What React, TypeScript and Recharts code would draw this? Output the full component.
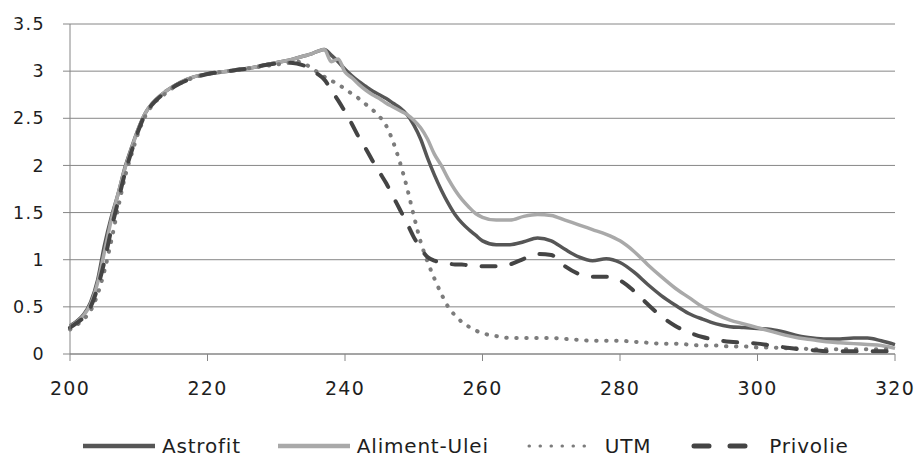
import React from "react";
import {
  LineChart,
  Line,
  XAxis,
  YAxis,
  CartesianGrid,
  Legend
} from "recharts";

// wavelength, nm
const wavelengths = [
  200, 201, 202, 203, 204, 205, 206, 207, 208, 209, 210, 211, 212,
  214, 216, 218, 220, 222, 224, 226, 228, 230,
  232, 233, 234, 235, 236, 237, 238, 239, 240, 241, 242, 243, 244, 245, 246,
  247, 248, 249, 250, 251, 252, 253, 254, 255, 256, 257, 258, 259, 260,
  262, 264, 266, 268, 270, 272, 274, 276, 278, 280, 282, 284, 286, 288, 290,
  292, 294, 296, 298, 300, 302, 304, 306, 308, 310, 312, 314, 316, 318, 320
];

const astrofit = [
  0.30, 0.35, 0.42, 0.55, 0.78, 1.15, 1.45, 1.70, 1.98, 2.20, 2.40, 2.56, 2.66,
  2.79, 2.88, 2.94, 2.97, 2.99, 3.01, 3.03, 3.06, 3.09,
  3.12, 3.14, 3.16, 3.18, 3.21, 3.23, 3.17, 3.10, 3.02, 2.95, 2.89, 2.84, 2.79, 2.75, 2.71,
  2.66, 2.61, 2.54, 2.43, 2.28, 2.08, 1.90, 1.74, 1.60, 1.48, 1.39, 1.32, 1.26, 1.20,
  1.16, 1.16, 1.19, 1.23, 1.20, 1.11, 1.03, 0.99, 1.01, 0.97, 0.87, 0.74, 0.62, 0.52, 0.43,
  0.37, 0.32, 0.29, 0.28, 0.27, 0.26, 0.23, 0.19, 0.17, 0.16, 0.16, 0.17, 0.17, 0.14, 0.10
];

const alimentUlei = [
  0.29, 0.34, 0.41, 0.53, 0.75, 1.08, 1.42, 1.70, 1.97, 2.19, 2.40, 2.56, 2.66,
  2.79, 2.88, 2.94, 2.97, 2.99, 3.01, 3.03, 3.06, 3.09,
  3.12, 3.14, 3.16, 3.18, 3.21, 3.23, 3.10, 3.13, 2.99, 2.93, 2.86, 2.80, 2.75, 2.71, 2.66,
  2.62, 2.58, 2.54, 2.48, 2.40, 2.28, 2.12, 2.00, 1.86, 1.74, 1.64, 1.56, 1.49, 1.45,
  1.42, 1.42, 1.46, 1.48, 1.47, 1.42, 1.37, 1.32, 1.27, 1.20, 1.09, 0.95, 0.82, 0.70, 0.60,
  0.50, 0.42, 0.36, 0.32, 0.28, 0.24, 0.20, 0.17, 0.15, 0.13, 0.12, 0.11, 0.10, 0.09, 0.06
];

const utm = [
  0.26, 0.31, 0.37, 0.46, 0.63, 0.88, 1.20, 1.55, 1.88, 2.13, 2.36, 2.53, 2.64,
  2.77, 2.87, 2.93, 2.97, 2.99, 3.01, 3.03, 3.05, 3.07,
  3.09, 3.10, 3.08, 3.04, 2.99, 2.94, 2.90, 2.86, 2.81, 2.76, 2.71, 2.65, 2.59, 2.52, 2.42,
  2.25, 2.03, 1.77, 1.47, 1.19, 0.98, 0.80, 0.64, 0.50, 0.41, 0.34, 0.29, 0.25, 0.22,
  0.19, 0.17, 0.17, 0.17, 0.17, 0.16, 0.15, 0.14, 0.14, 0.14, 0.13, 0.12, 0.11, 0.11, 0.10,
  0.09, 0.09, 0.08, 0.08, 0.07, 0.07, 0.06, 0.06, 0.05, 0.05, 0.05, 0.05, 0.05, 0.05, 0.05
];

const privolie = [
  0.28, 0.33, 0.39, 0.50, 0.70, 0.98, 1.32, 1.62, 1.92, 2.16, 2.38, 2.55, 2.65,
  2.78, 2.87, 2.93, 2.97, 2.99, 3.01, 3.03, 3.06, 3.08,
  3.09, 3.08, 3.06, 3.02, 2.97, 2.91, 2.80, 2.69, 2.57, 2.44, 2.30, 2.18, 2.05, 1.93, 1.81,
  1.67, 1.53, 1.39, 1.24, 1.12, 1.03, 0.99, 0.97, 0.96, 0.95, 0.95, 0.94, 0.94, 0.93,
  0.93, 0.95, 1.01, 1.06, 1.05, 0.93, 0.85, 0.82, 0.82, 0.78, 0.67, 0.53, 0.40, 0.30, 0.23,
  0.18, 0.15, 0.13, 0.12, 0.11, 0.09, 0.07, 0.05, 0.04, 0.03, 0.03, 0.03, 0.03, 0.03, 0.03
];

const xTicks = [200, 220, 240, 260, 280, 300, 320];
const yTicks = [0, 0.5, 1, 1.5, 2, 2.5, 3, 3.5];

const data = wavelengths.map((nm, i) => ({
  nm,
  astrofit: astrofit[i],
  alimentUlei: alimentUlei[i],
  utm: utm[i],
  privolie: privolie[i]
}));

const FONT = "'DejaVu Sans', Verdana, sans-serif";
const GRID = "#868686";

const series = [
  { key: "astrofit", name: "Astrofit", color: "#565656", width: 3.5, dash: undefined, cap: "butt", gap: 37 },
  { key: "alimentUlei", name: "Aliment-Ulei", color: "#a9a9a9", width: 3.5, dash: undefined, cap: "butt", gap: 37 },
  { key: "utm", name: "UTM", color: "#7c7c7c", width: 4, dash: "0.5 9.5", cap: "round", gap: 40 },
  { key: "privolie", name: "Privolie", color: "#444444", width: 4, dash: "14 16", cap: "round", gap: 0 }
];

function renderLegend() {
  return (
    <div
      style={{
        display: "flex",
        alignItems: "center",
        paddingLeft: 83,
        paddingTop: 18,
        height: 22,
        fontFamily: FONT,
        fontSize: 20,
        color: "#1e1e1e"
      }}
    >
      {series.map(s => (
        <div key={s.key} style={{ display: "flex", alignItems: "center", marginRight: s.gap }}>
          <svg width={72} height={10}>
            <line
              x1={s.cap === "round" ? 3 : 0}
              x2={s.cap === "round" ? 69 : 72}
              y1={5}
              y2={5}
              stroke={s.color}
              strokeWidth={s.key === "utm" ? 3 : s.width + 1}
              strokeDasharray={s.key === "privolie" ? "15 21" : s.dash ? "0.5 10.5" : undefined}
              strokeLinecap={s.cap as any}
            />
          </svg>
          <span style={{ marginLeft: s.key === "privolie" ? 6 : 7, letterSpacing: 0.8 }}>{s.name}</span>
        </div>
      ))}
    </div>
  );
}

export default function App() {
  return (
    <div style={{ width: 916, height: 457, overflow: "hidden", background: "#fff" }}>
      <style>{"body{margin:0}"}</style>
      <LineChart
        width={916}
        height={457}
        data={data}
        margin={{ top: 24, right: 21, left: 0, bottom: 0 }}
      >
        <CartesianGrid vertical={false} stroke={GRID} strokeWidth={1} />
        <XAxis
          dataKey="nm"
          type="number"
          domain={[200, 320]}
          ticks={xTicks}
          height={63}
          tickSize={7}
          tickMargin={21}
          stroke={GRID}
          tick={{ fill: "#1e1e1e", fontSize: 19, fontFamily: FONT, letterSpacing: 1.2 }}
        />
        <YAxis
          type="number"
          domain={[0, 3.5]}
          ticks={yTicks}
          width={70}
          tickSize={7}
          tickMargin={18}
          stroke={GRID}
          tick={{ fill: "#1e1e1e", fontSize: 17.5, fontFamily: FONT, letterSpacing: 1.4 }}
        />
        <Legend verticalAlign="bottom" height={40} content={renderLegend} wrapperStyle={{ left: 0, width: 916 }} />
        {series.map(s => (
          <Line
            key={s.key}
            type="monotone"
            dataKey={s.key}
            name={s.name}
            stroke={s.color}
            strokeWidth={s.width}
            strokeDasharray={s.dash}
            strokeLinecap={s.cap as any}
            dot={false}
            activeDot={false}
            isAnimationActive={false}
          />
        ))}
      </LineChart>
    </div>
  );
}
